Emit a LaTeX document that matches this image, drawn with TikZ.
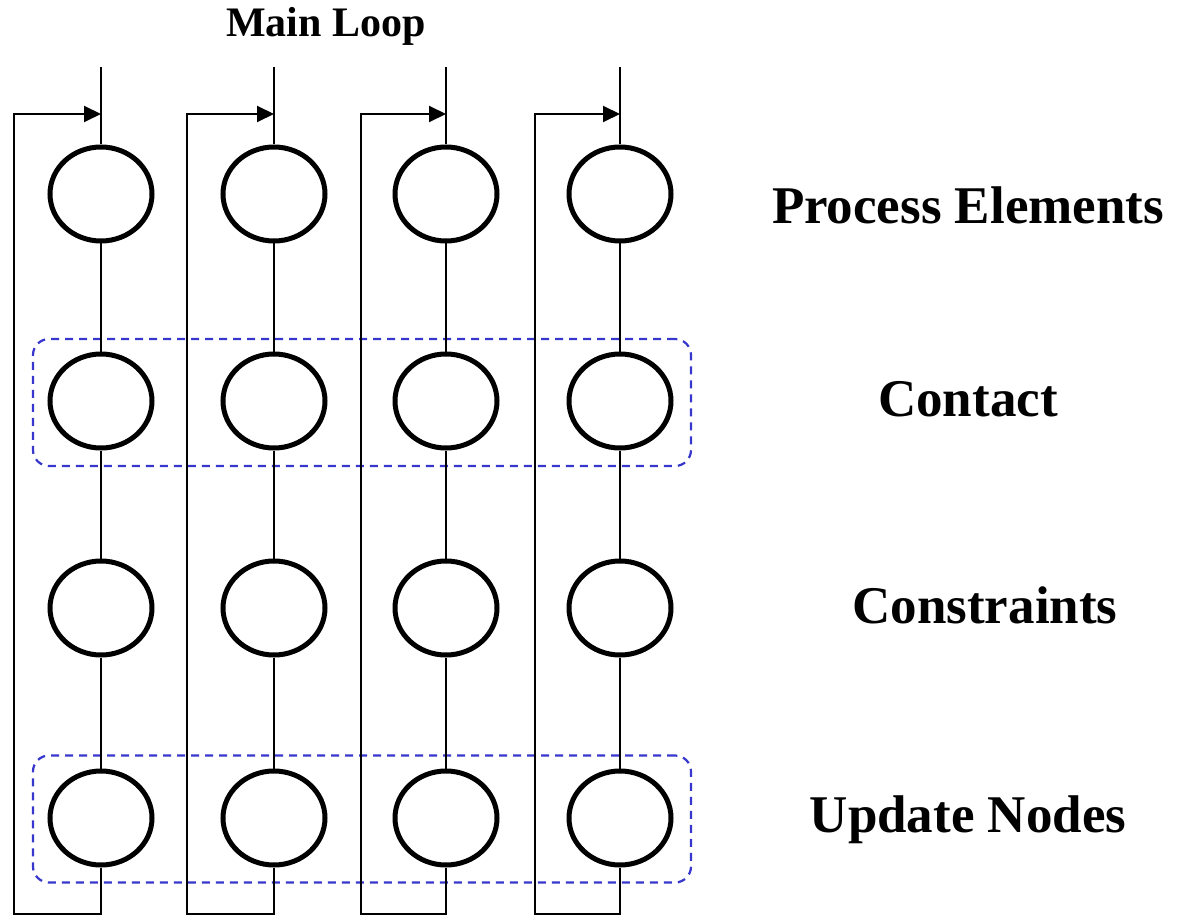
\documentclass[tikz,border=0pt]{standalone}
\usepackage{fontspec}
\setmainfont{Liberation Serif}
\usetikzlibrary{arrows.meta,shapes.geometric}
\definecolor{dashblue}{RGB}{55,55,205}
\begin{document}
\begin{tikzpicture}[x=1pt,y=-1pt,
  pe/.style={ellipse,draw,line width=5pt,minimum width=102pt,minimum height=94pt,inner sep=0pt,fill=white},
  wire/.style={draw,line width=2pt},
  loopwire/.style={draw,line width=2pt,-{Triangle[length=17pt,width=16pt]}},
  dashbox/.style={draw=dashblue,line width=2.2pt,dash pattern=on 8pt off 6pt,rounded corners=16pt,minimum width=658pt,minimum height=127pt,inner sep=0pt},
  lbl/.style={font=\bfseries\fontsize{53}{57}\selectfont,anchor=base,inner sep=0pt},
  title/.style={font=\bfseries\fontsize{42}{46}\selectfont,anchor=base,inner sep=0pt}]
\useasboundingbox (0,0) rectangle (1178,917);
% dashed group boxes
\node[dashbox] (g2) at (362,402.5) {};
\node[dashbox] (g4) at (362,819) {};
% columns
\foreach \i/\x/\xl in {1/101/14,2/274/187,3/446/361,4/620/535}{
  \coordinate (top\i) at (\x,67);
  \coordinate (in\i) at (\x,114);
  \coordinate (lt\i) at (\xl,114);
  \coordinate (lb\i) at (\xl,914);
  \coordinate (bot\i) at (\x,914);
  \node[pe] (c1\i) at (\x,194) {};
  \node[pe] (c2\i) at (\x,401) {};
  \node[pe] (c3\i) at (\x,608) {};
  \node[pe] (c4\i) at (\x,818) {};
  \draw[wire] (top\i) -- (c1\i.north);
  \draw[wire] (c1\i.south) -- (c2\i.north);
  \draw[wire] (c2\i.south) -- (c3\i.north);
  \draw[wire] (c3\i.south) -- (c4\i.north);
  \draw[loopwire] (c4\i.south) -- (bot\i) -- (lb\i) -- (lt\i) -- (in\i);
}
% labels
\node[title] (ml) at (326,37) {Main Loop};
\node[lbl] (l1) at (968,224) {Process Elements};
\node[lbl] (l2) at (968,416) {Contact};
\node[lbl] (l3) at (985,623) {Constraints};
\node[lbl] (l4) at (968,832) {Update Nodes};
\end{tikzpicture}
\end{document}
